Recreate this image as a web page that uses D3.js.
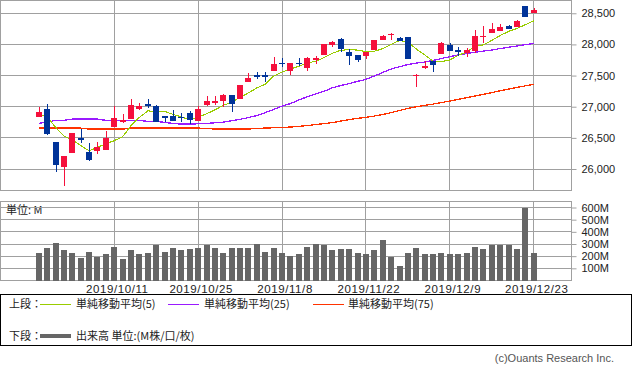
<!DOCTYPE html>
<html><head><meta charset="utf-8">
<script src="https://cdn.jsdelivr.net/npm/d3@7"></script>
<style>html,body{margin:0;padding:0;background:#fff;} svg{display:block}</style>
</head><body>
<svg id="c" width="633" height="372"></svg>
<script>
const dates = ["2019/9/30","2019/10/1","2019/10/2","2019/10/3","2019/10/4","2019/10/7","2019/10/8","2019/10/9","2019/10/10","2019/10/11",
"2019/10/14","2019/10/15","2019/10/16","2019/10/17","2019/10/18","2019/10/21","2019/10/22","2019/10/23","2019/10/24","2019/10/25",
"2019/10/28","2019/10/29","2019/10/30","2019/10/31","2019/11/1","2019/11/4","2019/11/5","2019/11/6","2019/11/7","2019/11/8",
"2019/11/11","2019/11/12","2019/11/13","2019/11/14","2019/11/15","2019/11/18","2019/11/19","2019/11/20","2019/11/21","2019/11/22",
"2019/11/25","2019/11/26","2019/11/27","2019/11/29","2019/12/2","2019/12/3","2019/12/4","2019/12/5","2019/12/6","2019/12/9",
"2019/12/10","2019/12/11","2019/12/12","2019/12/13","2019/12/16","2019/12/17","2019/12/18","2019/12/19","2019/12/20","2019/12/23"];
const open  = [26838,26963,26432,26035,26260,26491,26271,26287,26303,26678,26753,26801,26967,27042,27015,26850,26845,26838,26893,26774,
27031,27054,27091,27182,27128,27401,27508,27508,27578,27697,27578,27706,27616,27750,27830,27995,28087,27883,27830,27819,
27910,28071,28156,28098,28114,27492,27626,27738,27841,27991,27910,27867,27894,28124,28188,28220,28296,28275,28617,28500];
const high  = [26994,27042,26432,26207,26585,26641,26411,26432,26613,27010,26882,27123,27058,27118,27030,26850,26941,26898,26935,27010,
27171,27166,27203,27182,27348,27536,27552,27562,27793,27777,27701,27777,27803,27819,28007,28060,28108,27921,27830,27883,
28071,28156,28183,28119,28124,27525,27734,27738,28039,28018,27954,27937,28232,28296,28339,28328,28317,28392,28617,28585];
const low   = [26838,26549,25955,25730,26260,26411,26127,26244,26303,26678,26737,26801,26946,26973,26758,26748,26774,26748,26721,26774,
27010,27022,26989,26909,27128,27401,27444,27401,27578,27642,27508,27658,27578,27685,27830,27963,27883,27674,27713,27766,
27910,28071,28071,28050,27766,27320,27610,27562,27841,27899,27814,27803,27857,28028,28188,28220,28243,28275,28445,28500];
const close = [26914,26565,26067,26207,26577,26464,26143,26351,26496,26817,26790,27026,27015,27015,26758,26818,26774,26822,26785,26962,
27091,27086,27187,27038,27348,27455,27481,27481,27690,27680,27701,27690,27777,27777,28007,28039,27931,27819,27750,27883,
28071,28135,28172,28050,27766,27508,27658,27669,28018,27899,27883,27910,28140,28140,28248,28275,28243,28376,28445,28553];
const ma5   = [26877,26838,26670,26530,26466,26376,26292,26348,26406,26454,26519,26696,26829,26933,26921,26926,26876,26837,26791,26832,
26887,26949,27022,27073,27150,27223,27302,27361,27491,27557,27607,27648,27708,27725,27790,27858,27906,27915,27909,27884,
27891,27932,28002,28062,28039,27926,27831,27730,27724,27750,27825,27876,27970,27994,28064,28143,28209,28256,28317,28378];
const ma25  = [26732,26753,26781,26781,26801,26801,26801,26801,26781,26781,26781,26781,26781,26764,26764,26748,26732,26721,26721,26726,
26732,26742,26753,26774,26797,26826,26858,26906,26957,27010,27050,27107,27160,27203,27247,27304,27340,27372,27407,27439,
27492,27549,27605,27642,27677,27701,27717,27742,27774,27803,27830,27854,27873,27894,27910,27934,27954,27975,27995,28018];
const ma75  = [26657,26657,26657,26657,26657,26657,26641,26641,26641,26641,26641,26657,26657,26657,26657,26657,26657,26657,26657,26657,
26652,26641,26641,26641,26641,26641,26652,26657,26662,26668,26673,26684,26697,26713,26729,26745,26769,26793,26813,26829,
26850,26874,26906,26938,26973,26999,27022,27042,27067,27091,27118,27144,27171,27198,27227,27256,27283,27311,27335,27359];
const volume = [230,271,312,249,222,184,238,192,214,279,175,249,214,225,290,238,266,249,258,271,
290,271,230,271,271,271,296,238,266,222,205,214,279,304,290,247,255,255,230,214,
247,329,195,123,230,271,214,214,222,214,214,222,279,255,288,288,288,263,597,230];
const xTickLabels = ["2019/10/11","2019/10/25","2019/11/8","2019/11/22","2019/12/9","2019/12/23"];
const priceTicks = [26000,26500,27000,27500,28000,28500];
const volTicks = [100,200,300,400,500,600];
const legendLabels = ["単純移動平均(5)","単純移動平均(25)","単純移動平均(75)"];

const L=1, R=571.5, pTop=0.5, pBot=190.5, vTop=201.5, vBot=280.5;
const GRID="#a0a0a0", UP="#f5103c", DOWN="#003399";
const C_MA5="#99cc00", C_MA25="#9a1aff", C_MA75="#ff3300", C_VOL="#666666";
const svg=d3.select("#c");
const latin="'Liberation Sans', Arial, sans-serif";
const cjk="'Noto Sans CJK JP', 'Noto Sans', sans-serif";

const x=d3.scalePoint().domain(dates).range([L,R]).padding(4.5);
const yP=d3.scaleLinear().domain([25655,28705]).range([pBot,pTop]);
const yV=d3.scaleLinear().domain([0,600]).range([vBot,207.5]);
const cr=v=>Math.round(v-0.5)+0.5;

// ---- price panel grid
const gP=svg.append("g");
gP.selectAll("line.h").data(priceTicks).join("line")
  .attr("x1",L).attr("x2",R).attr("y1",d=>cr(yP(d))).attr("y2",d=>cr(yP(d)))
  .attr("stroke",GRID);
gP.selectAll("line.v").data(xTickLabels).join("line")
  .attr("x1",d=>cr(x(d))).attr("x2",d=>cr(x(d))).attr("y1",pTop).attr("y2",pBot)
  .attr("stroke",GRID);
gP.append("rect").attr("x",0.5).attr("y",pTop).attr("width",R-0.5).attr("height",pBot-pTop)
  .attr("fill","none").attr("stroke",GRID);
const axP=svg.append("g").attr("transform",`translate(${R},0)`)
  .call(d3.axisRight(yP).tickValues(priceTicks).tickFormat(d3.format(",")).tickSize(5).tickPadding(5));
axP.select(".domain").remove();
axP.selectAll(".tick line").attr("stroke",GRID);
axP.selectAll("text").attr("font-family",latin).attr("font-size",11).attr("fill","#222");

// ---- MA lines
const line=arr=>d3.line().x((v,i)=>x(dates[i])).y(v=>yP(v))(arr);
[[ma75,C_MA75,1.3],[ma25,C_MA25,1.3],[ma5,C_MA5,1.1]].forEach(([arr,c,w])=>{
  svg.append("path").attr("d",line(arr)).attr("fill","none").attr("stroke",c).attr("stroke-width",w)
    .attr("shape-rendering","crispEdges");
});

// ---- candles
const gC=svg.append("g").attr("shape-rendering","crispEdges");
dates.forEach((d,i)=>{
  const cx=Math.round(x(d));
  const col=close[i]>=open[i]?UP:DOWN;
  const yh=yP(high[i]), yl=yP(low[i]);
  gC.append("rect").attr("x",cx-0.5).attr("y",Math.round(yh)).attr("width",1.2)
    .attr("height",Math.max(1,Math.round(yl)-Math.round(yh))).attr("fill",col);
  const y1=Math.round(yP(Math.max(open[i],close[i]))), y2=Math.round(yP(Math.min(open[i],close[i])));
  gC.append("rect").attr("x",cx-3).attr("y",y1).attr("width",6)
    .attr("height",Math.max(1,y2-y1)).attr("fill",col);
});

// ---- volume panel
const gV=svg.append("g");
gV.append("text").attr("x",6).attr("y",210).attr("dy","0.35em").text("単位: M")
  .attr("font-family",cjk).attr("font-size",11).attr("fill","#222");
gV.selectAll("line.h").data(volTicks).join("line")
  .attr("x1",L).attr("x2",R).attr("y1",d=>cr(yV(d))).attr("y2",d=>cr(yV(d))).attr("stroke",GRID);
gV.selectAll("line.v").data(xTickLabels).join("line")
  .attr("x1",d=>cr(x(d))).attr("x2",d=>cr(x(d))).attr("y1",vTop).attr("y2",vBot).attr("stroke",GRID);
gV.append("rect").attr("x",0.5).attr("y",vTop).attr("width",R-0.5).attr("height",vBot-vTop)
  .attr("fill","none").attr("stroke",GRID);
svg.append("g").attr("shape-rendering","crispEdges").selectAll("rect").data(volume).join("rect")
  .attr("x",(v,i)=>Math.round(x(dates[i]))-3).attr("width",6)
  .attr("y",v=>Math.round(yV(v))).attr("height",v=>Math.round(yV(0))-Math.round(yV(v)))
  .attr("fill",C_VOL);
const axV=svg.append("g").attr("transform",`translate(${R},0)`)
  .call(d3.axisRight(yV).tickValues(volTicks).tickFormat(d=>d+"M").tickSize(5).tickPadding(5));
axV.select(".domain").remove();
axV.selectAll(".tick line").attr("stroke",GRID);
axV.selectAll("text").attr("font-family",latin).attr("font-size",11).attr("fill","#222");

// ---- date labels
svg.append("g").selectAll("text").data(xTickLabels).join("text")
  .attr("x",d=>x(d)+3).attr("y",289).attr("dy","0.35em").attr("text-anchor","middle")
  .attr("font-family",latin).attr("font-size",11.5).attr("letter-spacing",0.6).attr("fill","#222").text(d=>d);

// ---- legend
const lg=svg.append("g");
lg.append("rect").attr("x",0.5).attr("y",294.5).attr("width",631).attr("height",51)
  .attr("fill","none").attr("stroke","#000");
const lt=(tx,ty,s)=>lg.append("text").attr("x",tx).attr("y",ty).attr("dy","0.35em").text(s)
  .attr("font-family",cjk).attr("font-size",11).attr("fill","#222");
lt(9,304,"上段：");
[[40,76,C_MA5],[168,204,C_MA25],[313,348,C_MA75]].forEach(([lx,tx,c],k)=>{
  lg.append("line").attr("x1",lx).attr("x2",lx+31).attr("y1",304.5).attr("y2",304.5).attr("stroke",c);
  lt(tx,304,legendLabels[k]);
});
lt(9,336,"下段：");
lg.append("line").attr("x1",40).attr("x2",71).attr("y1",336).attr("y2",336).attr("stroke",C_VOL).attr("stroke-width",4);
lt(76,336,"出来高 単位:(M株/口/枚)");

svg.append("text").attr("x",614).attr("y",358).attr("dy","0.35em").attr("text-anchor","end")
  .attr("font-family",latin).attr("font-size",11).attr("fill","#555").text("(c)Ouants Research Inc.");
</script>
</body></html>
